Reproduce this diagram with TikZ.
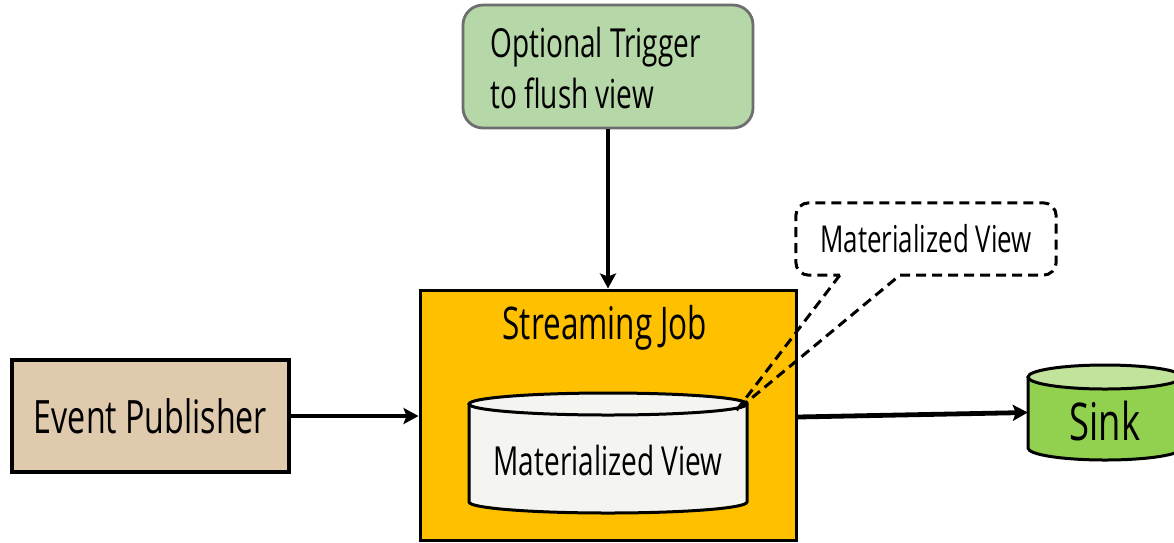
\documentclass[tikz,border=0pt]{standalone}
\usepackage{fontspec}
\setmainfont{Open Sans}[FakeStretch=0.7]
\usetikzlibrary{arrows.meta,calc}
\definecolor{pubtan}{HTML}{DFCAAE}
\definecolor{jobgold}{HTML}{FFC000}
\definecolor{triggergreen}{HTML}{B6D7A8}
\definecolor{triggerline}{HTML}{6E6E6E}
\definecolor{viewfill}{HTML}{F4F4F1}
\definecolor{sinkgreen}{HTML}{92D050}
\definecolor{sinktop}{HTML}{C2E39C}
\newcommand{\fsz}[1]{\fontsize{#1}{#1}\selectfont}
\begin{document}
\begin{tikzpicture}[x=1pt,y=-1pt,
  flow/.style={line width=4.8pt,-{Stealth[length=15pt,width=16pt,inset=3pt]}},
  box/.style={draw,inner sep=0pt},
  txt/.style={inner sep=0pt,anchor=base},
  dashline/.style={line width=3pt,dash pattern=on 10pt off 6pt}]
\useasboundingbox (0,0) rectangle (1174,542);

% Event source
\node[box,line width=4.5pt,fill=pubtan,minimum width=277pt,minimum height=112pt,
  font=\fsz{46}] (pub) at (150.5,416) {Event Publisher};

% Streaming job container
\node[box,line width=3pt,fill=jobgold,minimum width=376pt,minimum height=250pt] (job) at (608,415) {};
\node[txt,font=\fsz{45}] (jobtitle) at (605,339) {Streaming Job};

% Materialized view store (cylinder)
\fill[viewfill] (469,404) -- (469,502) arc[start angle=180,end angle=0,x radius=139,y radius=11] -- (747,404) -- cycle;
\draw[line width=3pt] (469,404) -- (469,502) arc[start angle=180,end angle=0,x radius=139,y radius=11] -- (747,404);
\draw[line width=3pt,fill=viewfill] (608,404) ellipse[x radius=139,y radius=11];
\node[txt,font=\fsz{40}] (mv) at (608,475) {Materialized View};
\coordinate (tip) at (736,411);

% Trigger
\node[box,line width=2.8pt,draw=triggerline,fill=triggergreen,rounded corners=20pt,
  minimum width=290pt,minimum height=123pt] (trigger) at (608,66.5) {};
\node[txt,anchor=base west,font=\fontsize{40}{51}\selectfont,align=left] (triggertext) at (490,108)
  {Optional Trigger\\to flush view};

% Sink (cylinder)
\fill[sinkgreen] (1028,377) -- (1028,448) arc[start angle=180,end angle=0,x radius=77,y radius=12] -- (1182,377) -- cycle;
\draw[line width=3pt] (1028,377) -- (1028,448) arc[start angle=180,end angle=0,x radius=77,y radius=12] -- (1182,377);
\draw[line width=3pt,fill=sinktop] (1105,377) ellipse[x radius=77,y radius=12];
\node[minimum width=154pt,minimum height=71pt,inner sep=0pt] (sink) at (1105,412.5) {};
\node[txt,font=\fsz{52}] (sinktext) at (1105,440) {Sink};

% Callout naming the view
\node[minimum width=260pt,minimum height=72pt,inner sep=0pt,font=\fsz{37}] (callout) at (926,239) {Materialized View};
\draw[dashline]
  ($(callout.south west)+(44,0)$) -- (tip) -- ($(callout.south west)+(104,0)$)
  -- ($(callout.south west)+(114,0)$) [rounded corners=13pt]
  -- (callout.south east) -- (callout.north east) -- (callout.north west)
  -- (callout.south west) -- ($(callout.south west)+(44,0)$);

% Connectors
\draw[flow] (pub.east) -- (pub.east -| job.west);
\draw[flow] (trigger.south) -- (trigger.south |- job.north);
\draw[flow] ($(job.east)+(0,2)$) -- (sink.west);
\end{tikzpicture}
\end{document}
